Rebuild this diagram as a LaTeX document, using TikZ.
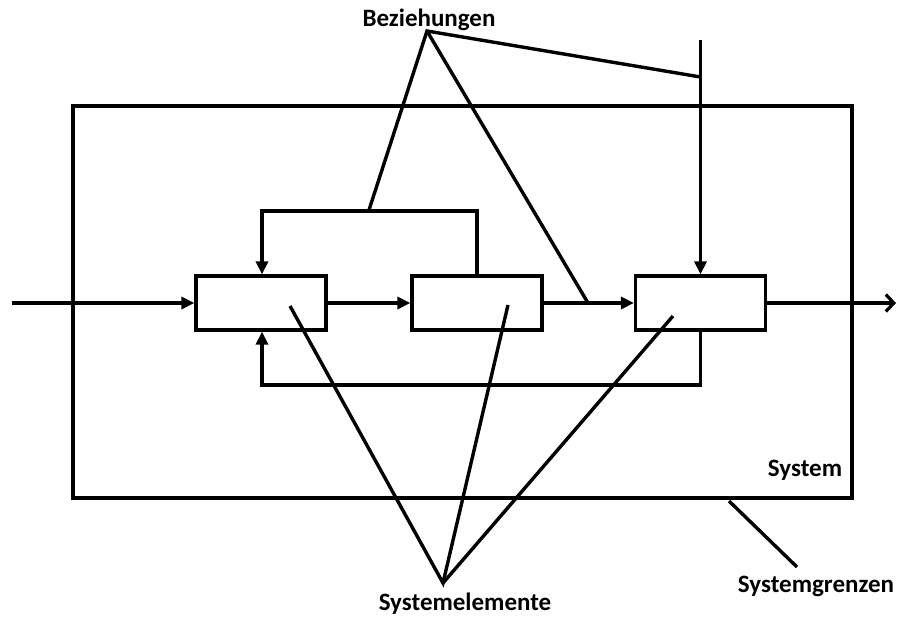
\documentclass[tikz,border=0pt]{standalone}
\usepackage{fontspec}
\setmainfont{Carlito}
\usetikzlibrary{arrows.meta}
\begin{document}
\begin{tikzpicture}[x=1pt,y=-1pt,
  line width=3.2pt,
  element/.style={draw,minimum width=130pt,minimum height=54pt,inner sep=0pt},
  boundary/.style={draw,minimum width=779pt,minimum height=392pt,inner sep=0pt},
  label/.style={font=\fontsize{25pt}{28pt}\selectfont\bfseries,inner sep=0pt},
  flow/.style={-{Triangle[length=13pt,width=12pt]}},
  outflow/.style={-{Straight Barb[length=8pt,width=17pt,line width=3.2pt]}},
  pointer/.style={line width=3.4pt}]
  \useasboundingbox (0,0) rectangle (898,619);

  % system boundary and its elements
  \node[boundary] (sys) at (462.5,302) {};
  \node[element] (e1) at (261,303) {};
  \node[element] (e2) at (477,303) {};
  \node[element] (e3) at (700.5,303) {};

  % labels
  \node[label] (bez) at (429,20) {Beziehungen};
  \node[label] (sel) at (465,604) {Systemelemente};
  \node[label] (sysl) at (805,470) {System};
  \node[label] (sgr) at (816,586) {Systemgrenzen};

  % auxiliary points
  \coordinate (in) at (12,303);
  \coordinate (out) at (896,303);
  \coordinate (top) at (700.5,40);
  \coordinate (jtop) at (700.5,77);
  \coordinate (jmid) at (588,303);
  \coordinate (fbtop) at (262,211);
  \coordinate (fbtopr) at (477,211);
  \coordinate (fbbot) at (262,385);
  \coordinate (fbbotr) at (700.5,385);
  \coordinate (jfb) at (369,210);
  \coordinate (apexb) at (427,31);
  \coordinate (apexs) at (443,583);
  \coordinate (p1) at (290,306);
  \coordinate (p2) at (508,305);
  \coordinate (p3) at (673,316);
  \coordinate (sgA) at (729,501);
  \coordinate (sgB) at (797,567);

  % main flow
  \draw[flow] (in) -- (e1.west);
  \draw[flow] (e1.east) -- (e2.west);
  \draw[flow] (e2.east) -- (e3.west);
  \draw[outflow] (e3.east) -- (out);
  \draw[flow] (top) -- (e3.north);

  % feedback loops
  \draw[flow] (e2.north) -- (fbtopr) -- (fbtop) -- (e1.north -| fbtop);
  \draw[flow] (e3.south) -- (fbbotr) -- (fbbot) -- (e1.south -| fbbot);

  % pointers to relations
  \draw[pointer] (jtop) -- (apexb) -- (jfb);
  \draw[pointer] (apexb) -- (jmid);

  % pointers to elements
  \draw[pointer] (p1) -- (apexs) -- (p2);
  \draw[pointer] (apexs) -- (p3);

  % pointer to boundary
  \draw[pointer] (sgA) -- (sgB);
\end{tikzpicture}
\end{document}
